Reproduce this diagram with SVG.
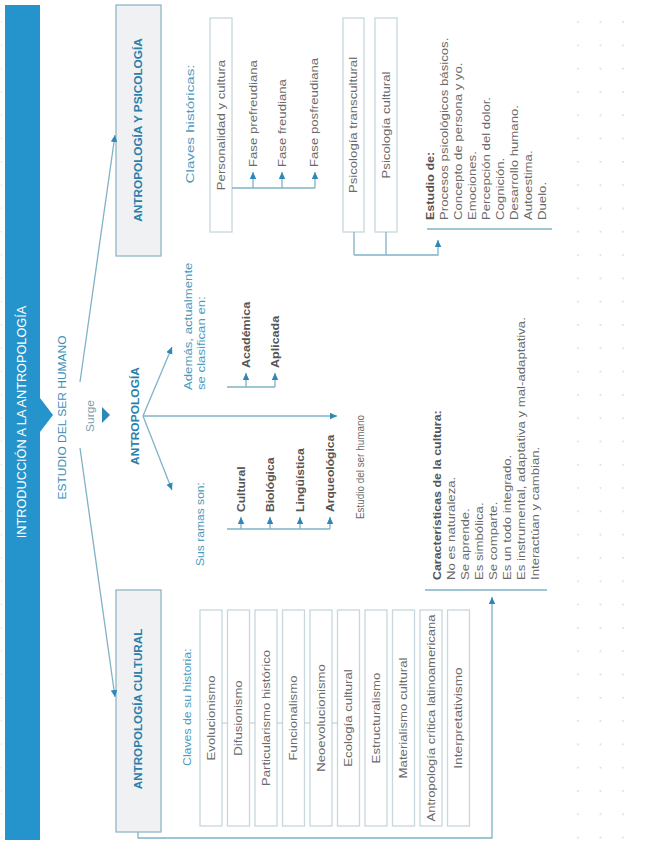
<svg xmlns="http://www.w3.org/2000/svg" width="647" height="848" viewBox="0 0 647 848">
<defs>
<style>
text{font-family:"Liberation Sans",Arial,sans-serif;}
.t{font-size:11px;fill:#6a6a6a;}
.tc{font-size:11px;fill:#4a9bc0;}
.b{font-size:11px;font-weight:bold;fill:#555555;}
.h{font-size:11px;font-weight:bold;fill:#2b7fab;}
.m{text-anchor:middle;}
.box{fill:#ffffff;stroke:#c6d8de;stroke-width:1.3;}
.hbox{fill:#eff1f3;stroke:#8fb6c4;stroke-width:1.3;}
.ln{fill:none;stroke:#7fb3c5;stroke-width:1.3;}
.ar{fill:none;stroke:#7fb3c5;stroke-width:1.3;marker-end:url(#ah);}
.tick{stroke:#b5c6cb;stroke-width:1;}
.rule{stroke:#7fb3c5;stroke-width:1.6;}
</style>
<marker id="ah" markerUnits="userSpaceOnUse" markerWidth="9" markerHeight="9" refX="7" refY="3.25" orient="auto"><path d="M0,0 L7,3.25 L0,6.5 z" fill="#2d87b8"/></marker>
<pattern id="dots" patternUnits="userSpaceOnUse" x="567" y="10.5" width="22.5" height="23.3"><circle cx="11" cy="11.5" r="0.9" fill="#d2d2d2"/></pattern>
<pattern id="dotsL" patternUnits="userSpaceOnUse" x="-9.5" y="10.5" width="22.5" height="23.3"><circle cx="11" cy="11.5" r="0.8" fill="#dddddd"/></pattern>
</defs>
<rect width="647" height="848" fill="#ffffff"/>
<rect x="567" y="10.5" width="67.5" height="837" fill="url(#dots)"/>
<rect x="-9.5" y="10.5" width="22.5" height="837" fill="url(#dotsL)"/>

<g id="banner">
<rect x="5" y="5" width="35" height="835" fill="#2594cc"/>
<polygon points="40,398 53,415 40,432" fill="#2594cc"/>
<text class="m" transform="translate(26.3 422) rotate(-90) scale(1.06 1)" style="font-size:12px;fill:#ffffff">INTRODUCCIÓN A LA ANTROPOLOGÍA</text>
</g>

<g id="estudio">
<text class="m" transform="translate(66 417.5) rotate(-90) scale(1.09 1)" style="font-size:11px;fill:#3a8eb8">ESTUDIO DEL SER HUMANO</text>
</g>

<g id="surge">
<text class="m" transform="translate(93.8 416) rotate(-90) scale(1.09 1)" style="font-size:11px;fill:#7f9eab">Surge</text>
<polygon points="102,407 110,415 102,423" fill="#2d87b8"/>
</g>

<g id="antropologia">
<text class="h m" transform="translate(139 416) rotate(-90) scale(1.09 1)">ANTROPOLOGÍA</text>
</g>

<g id="antropologia-psicologia">
<rect class="hbox" x="116" y="5" width="45" height="251"/>
<text class="h m" transform="translate(142 130) rotate(-90) scale(1.07 1)">ANTROPOLOGÍA Y PSICOLOGÍA</text>
</g>

<g id="antropologia-cultural">
<rect class="hbox" x="116" y="590" width="45" height="242"/>
<text class="h m" transform="translate(142 709) rotate(-90) scale(1.06 1)">ANTROPOLOGÍA CULTURAL</text>
</g>

<g id="claves-historicas">
<text class="tc m" transform="translate(193.8 124) rotate(-90) scale(1.38 1)">Claves históricas:</text>
</g>

<g id="personalidad">
<rect class="box" x="210" y="18" width="22" height="214"/>
<text class="t m" transform="translate(224.8 125) rotate(-90) scale(1.2 1)">Personalidad y cultura</text>
</g>
<g id="fase-prefreudiana"><text class="t" transform="translate(256.8 167) rotate(-90) scale(1.2 1)">Fase prefreudiana</text></g>
<g id="fase-freudiana"><text class="t" transform="translate(285.8 167) rotate(-90) scale(1.2 1)">Fase freudiana</text></g>
<g id="fase-posfreudiana"><text class="t" transform="translate(317.8 167) rotate(-90) scale(1.2 1)">Fase posfreudiana</text></g>

<g id="psicologia-transcultural">
<rect class="box" x="343" y="18" width="21" height="214"/>
<text class="t m" transform="translate(357.3 125) rotate(-90) scale(1.2 1)">Psicología transcultural</text>
</g>
<g id="psicologia-cultural">
<rect class="box" x="375" y="18" width="22" height="214"/>
<text class="t m" transform="translate(389.8 125) rotate(-90) scale(1.2 1)">Psicología cultural</text>
</g>

<g id="estudio-de">
<line class="rule" x1="427" y1="229" x2="552" y2="229"/>
<text class="b" transform="translate(433.8 220) rotate(-90) scale(1.14 1)">Estudio de:</text>
<text class="t" transform="translate(447.8 220) rotate(-90) scale(1.2 1)">Procesos psicológicos básicos.</text>
<text class="t" transform="translate(461.8 220) rotate(-90) scale(1.2 1)">Concepto de persona y yo.</text>
<text class="t" transform="translate(475.8 220) rotate(-90) scale(1.2 1)">Emociones.</text>
<text class="t" transform="translate(489.8 220) rotate(-90) scale(1.2 1)">Percepción del dolor.</text>
<text class="t" transform="translate(503.8 220) rotate(-90) scale(1.2 1)">Cognición.</text>
<text class="t" transform="translate(517.8 220) rotate(-90) scale(1.2 1)">Desarrollo humano.</text>
<text class="t" transform="translate(531.8 220) rotate(-90) scale(1.2 1)">Autoestima.</text>
<text class="t" transform="translate(545.8 220) rotate(-90) scale(1.2 1)">Duelo.</text>
</g>

<g id="ademas">
<text class="tc" transform="translate(192.3 390) rotate(-90) scale(1.2 1)">Además, actualmente</text>
<text class="tc" transform="translate(204.8 390) rotate(-90) scale(1.2 1)">se clasifican en:</text>
</g>
<g id="academica"><text class="b" transform="translate(249.8 368) rotate(-90) scale(1.14 1)">Académica</text></g>
<g id="aplicada"><text class="b" transform="translate(278.8 368) rotate(-90) scale(1.14 1)">Aplicada</text></g>

<g id="sus-ramas">
<text class="tc" transform="translate(203.8 566) rotate(-90) scale(1.1 1)">Sus ramas son:</text>
</g>
<g id="rama-cultural"><text class="b" transform="translate(244.8 512) rotate(-90) scale(1.1 1)">Cultural</text></g>
<g id="rama-biologica"><text class="b" transform="translate(273.8 512) rotate(-90) scale(1.1 1)">Biológica</text></g>
<g id="rama-linguistica"><text class="b" transform="translate(303.8 512) rotate(-90) scale(1.1 1)">Lingüística</text></g>
<g id="rama-arqueologica"><text class="b" transform="translate(333.8 512) rotate(-90) scale(1.1 1)">Arqueológica</text></g>

<g id="estudio-ser-humano">
<text class="t" transform="translate(363.8 519) rotate(-90) scale(0.9 1)">Estudio del ser humano</text>
</g>

<g id="claves-historia">
<text class="tc" transform="translate(190.8 766) rotate(-90) scale(1.12 1)">Claves de su historia:</text>
</g>

<g id="evolucionismo"><rect class="box" x="200" y="610" width="22" height="216"/><text class="t m" transform="translate(214.8 718) rotate(-90) scale(1.2 1)">Evolucionismo</text></g>
<g id="difusionismo"><rect class="box" x="227.5" y="610" width="22" height="216"/><text class="t m" transform="translate(242.3 718) rotate(-90) scale(1.2 1)">Difusionismo</text></g>
<g id="particularismo"><rect class="box" x="255" y="610" width="22" height="216"/><text class="t m" transform="translate(269.8 718) rotate(-90) scale(1.2 1)">Particularismo histórico</text></g>
<g id="funcionalismo"><rect class="box" x="282.5" y="610" width="22" height="216"/><text class="t m" transform="translate(297.3 718) rotate(-90) scale(1.2 1)">Funcionalismo</text></g>
<g id="neoevolucionismo"><rect class="box" x="310" y="610" width="22" height="216"/><text class="t m" transform="translate(324.8 718) rotate(-90) scale(1.2 1)">Neoevolucionismo</text></g>
<g id="ecologia"><rect class="box" x="337.5" y="610" width="22" height="216"/><text class="t m" transform="translate(352.3 718) rotate(-90) scale(1.2 1)">Ecología cultural</text></g>
<g id="estructuralismo"><rect class="box" x="365" y="610" width="22" height="216"/><text class="t m" transform="translate(379.8 718) rotate(-90) scale(1.2 1)">Estructuralismo</text></g>
<g id="materialismo"><rect class="box" x="392.5" y="610" width="22" height="216"/><text class="t m" transform="translate(407.3 718) rotate(-90) scale(1.2 1)">Materialismo cultural</text></g>
<g id="critica"><rect class="box" x="420" y="610" width="22" height="216"/><text class="t m" transform="translate(434.8 718) rotate(-90) scale(1.18 1)">Antropología crítica latinoamericana</text></g>
<g id="interpretativismo"><rect class="box" x="447.5" y="610" width="22" height="216"/><text class="t m" transform="translate(462.3 718) rotate(-90) scale(1.25 1)">Interpretativismo</text></g>

<g id="caracteristicas">
<line class="rule" x1="425" y1="590" x2="547" y2="590"/>
<text class="b" transform="translate(440.8 580) rotate(-90) scale(1.13 1)">Características de la cultura:</text>
<text class="t" transform="translate(454.8 580) rotate(-90) scale(1.2 1)">No es naturaleza.</text>
<text class="t" transform="translate(468.8 580) rotate(-90) scale(1.2 1)">Se aprende.</text>
<text class="t" transform="translate(482.8 580) rotate(-90) scale(1.2 1)">Es simbólica.</text>
<text class="t" transform="translate(496.8 580) rotate(-90) scale(1.2 1)">Se comparte.</text>
<text class="t" transform="translate(510.8 580) rotate(-90) scale(1.2 1)">Es un todo integrado.</text>
<text class="t" transform="translate(524.8 580) rotate(-90) scale(1.2 1)">Es instrumental, adaptativa y mal-adaptativa.</text>
<text class="t" transform="translate(538.8 580) rotate(-90) scale(1.2 1)">Interactúan y cambian.</text>
</g>

<g id="connectors">
<line class="ar" x1="80" y1="382" x2="115" y2="135"/>
<line class="ar" x1="80" y1="448" x2="115" y2="697"/>
<line class="ar" x1="143" y1="416" x2="172" y2="347"/>
<line class="ar" x1="143" y1="416" x2="172" y2="490"/>
<line class="ar" x1="143" y1="416" x2="337" y2="416"/>
<path class="ln" d="M232,188 H315"/>
<path class="ar" d="M253,188 V172"/>
<path class="ar" d="M282,188 V172"/>
<path class="ar" d="M315,188 V172"/>
<path class="ln" d="M354,232 V255 M386,232 V255"/>
<path class="ar" d="M354,255 H438 V240"/>
<path class="ln" d="M227,387 H275"/>
<path class="ar" d="M246,387 V373"/>
<path class="ar" d="M275,387 V373"/>
<path class="ln" d="M227,529 H330"/>
<path class="ar" d="M241,529 V517"/>
<path class="ar" d="M270,529 V517"/>
<path class="ar" d="M300,529 V517"/>
<path class="ar" d="M330,529 V517"/>
<path class="ar" d="M138,832 V838 H492 V597"/>
<line class="tick" x1="222" y1="723" x2="227.5" y2="723"/>
<line class="tick" x1="249.5" y1="723" x2="255" y2="723"/>
<line class="tick" x1="277" y1="723" x2="282.5" y2="723"/>
<line class="tick" x1="304.5" y1="723" x2="310" y2="723"/>
<line class="tick" x1="332" y1="723" x2="337.5" y2="723"/>
</g>
</svg>
